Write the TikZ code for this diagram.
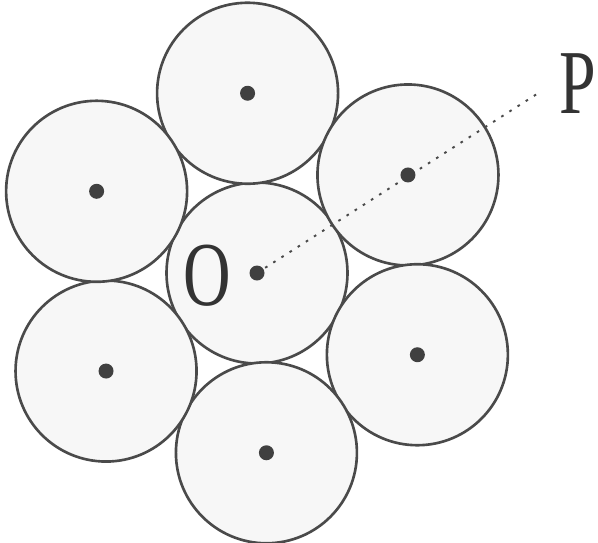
\documentclass[tikz,border=0pt]{standalone}
\usepackage{fontspec}
\setmainfont{Liberation Serif}
\usetikzlibrary{positioning}
\definecolor{rim}{HTML}{4A4A4A}
\definecolor{ballfill}{HTML}{F7F7F7}
\definecolor{dotc}{HTML}{404040}
\begin{document}
\begin{tikzpicture}
  \useasboundingbox (-5.14,-5.38) rectangle (6.82,5.46);
  \tikzset{ball/.style={circle,draw=rim,fill=ballfill,line width=1.5pt,minimum size=3.62cm,inner sep=0pt},
    lbl/.style={font=\fontsize{52}{52}\selectfont,text=black!80,inner sep=0pt}}
  % central ball and its six neighbours
  \node[ball] (c0) at (0,0) {};
  \foreach \i in {1,...,6}
    \node[ball] (c\i) at ({153-60*\i}:3.6) {};
  % radial line towards P
  \coordinate (pend) at (32.6:6.72);
  \draw[rim,line width=1.1pt,dash pattern=on 1.5pt off 4pt] (c0.center) -- (pend);
  \foreach \i in {0,...,6}
    \fill[dotc] (c\i.center) circle (0.15);
  \node[lbl] (olbl) at (-1.0,-0.06) {\scalebox{0.72}[1]{O}};
  \node[lbl] (plbl) at (6.42,3.78) {\scalebox{0.72}[1]{P}};
\end{tikzpicture}
\end{document}
